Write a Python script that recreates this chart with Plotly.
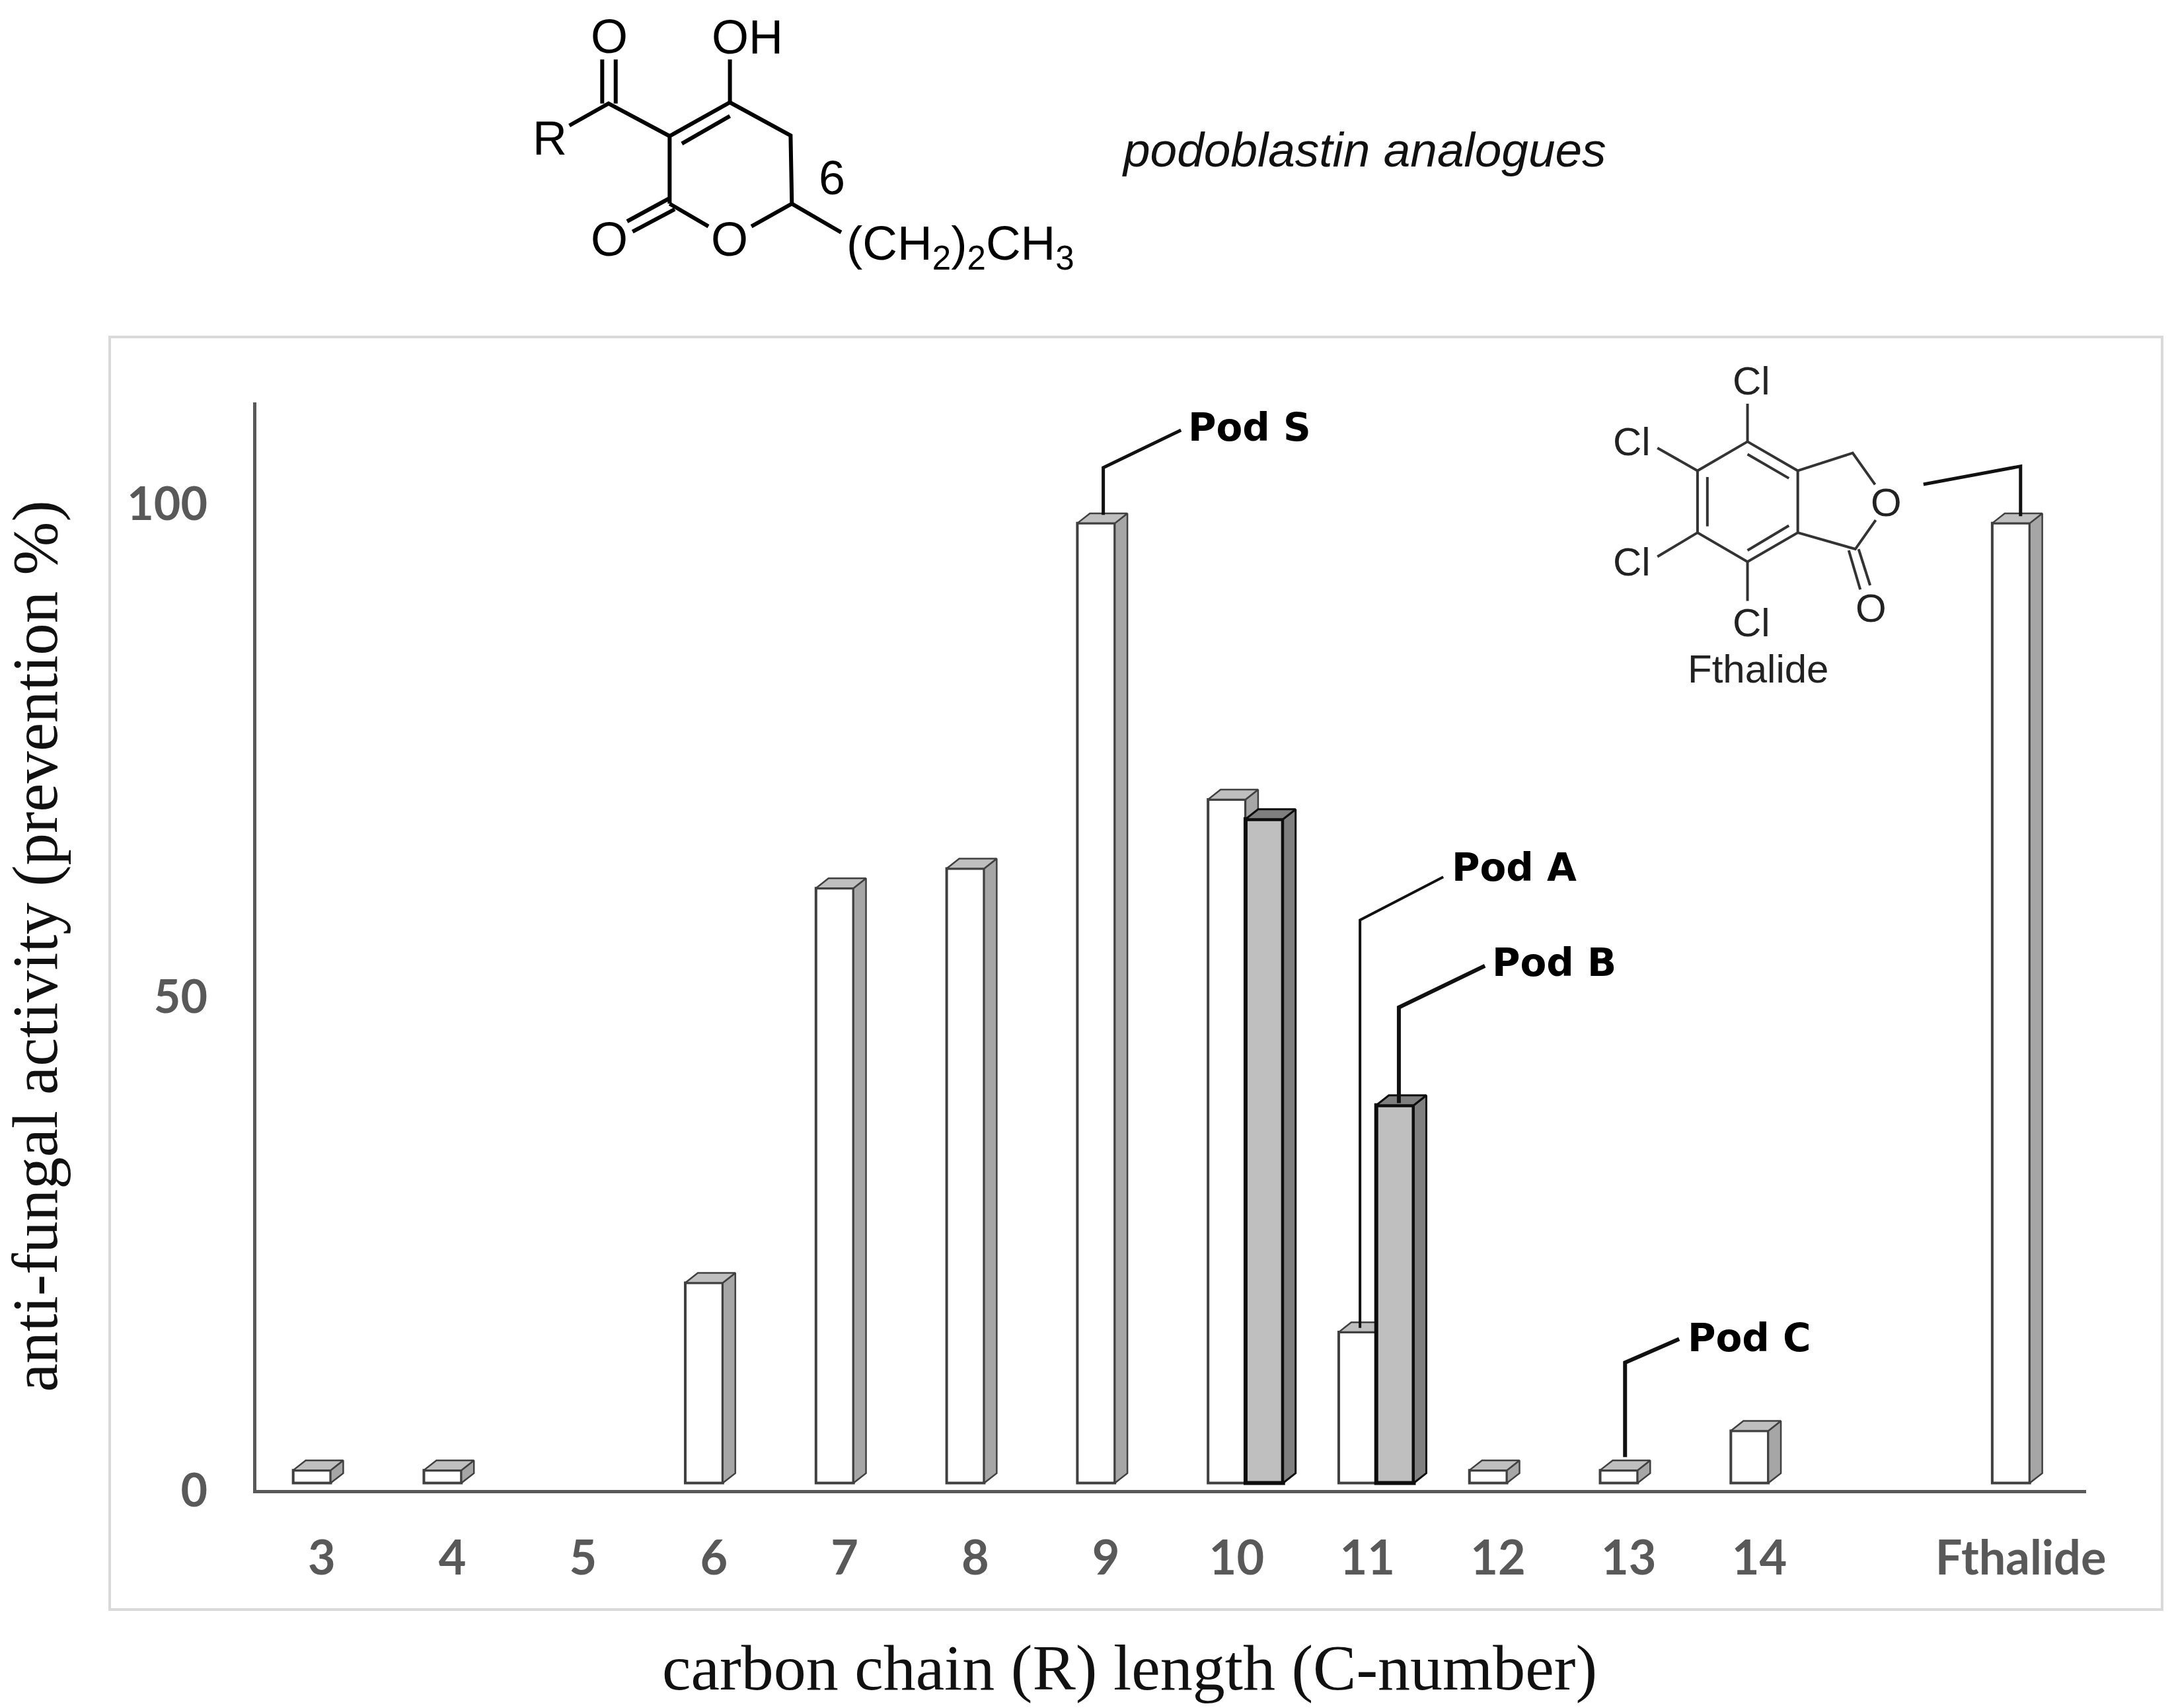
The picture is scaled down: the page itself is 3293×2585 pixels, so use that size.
import plotly.graph_objects as go

# ---------- data ----------
categories = ["3", "4", "5", "6", "7", "8", "9", "10", "11", "12", "13", "14", "Fthalide"]
category_pos = [3, 4, 5, 6, 7, 8, 9, 10, 11, 12, 13, 14, 16]
white_values = [2, 2, None, 21, 61, 63, 98, 70, 16, 2, 2, 6, 98]
grey_values = [None, None, None, None, None, None, None, 68, 39, None, None, None, None]
y_ticks = [0, 50, 100]

W, H = 3293, 2585
S = 3293 / 1568  # shrunk-image scale used when reading the layout

AX_L, AX_R, AX_T, AX_B = 388, 3157, 609, 2255
BAR_W, DX, DY, FLOOR = 0.287, 0.096, 1.0, 0.7
WHITE_OFF, GREY_OFF = -0.075, 0.212


def px(x, y):
    return x / W, 1 - y / H


def faces(values, off):
    tx, ty, sx, sy = [], [], [], []
    for c, v in zip(category_pos, values):
        if v is None:
            continue
        x0, x1 = c + off - BAR_W / 2, c + off + BAR_W / 2
        tx += [x0, x0 + DX, x1 + DX, x1, x0, None]
        ty += [v, v + DY, v + DY, v, v, None]
        sx += [x1, x1 + DX, x1 + DX, x1, x1, None]
        sy += [FLOOR, FLOOR + DY, v + DY, v, FLOOR, None]
    return tx, ty, sx, sy


def series(values, off, front, top, side, edge, lw, face_lw, xa, ya):
    kept = [(c + off, v) for c, v in zip(category_pos, values) if v is not None]
    tx, ty, sx, sy = faces(values, off)
    out = []
    for fx, fy, col in ((sx, sy, side), (tx, ty, top)):
        out.append(go.Scatter(x=fx, y=fy, mode="lines", fill="toself", fillcolor=col,
                              line=dict(color=edge, width=face_lw), xaxis=xa, yaxis=ya,
                              showlegend=False, hoverinfo="skip"))
    out.append(go.Bar(x=[k[0] for k in kept], y=[k[1] - FLOOR for k in kept], base=FLOOR,
                      width=BAR_W, marker=dict(color=front, line=dict(color=edge, width=lw)),
                      xaxis=xa, yaxis=ya, showlegend=False, hoverinfo="skip"))
    return out


fig = go.Figure()
for t in series(white_values, WHITE_OFF, "#ffffff", "#bfbfbf", "#a6a6a6", "#404040", 4, 2.5, "x", "y"):
    fig.add_trace(t)
for t in series(grey_values, GREY_OFF, "#bfbfbf", "#7f7f7f", "#7f7f7f", "#0d0d0d", 6, 3, "x2", "y2"):
    fig.add_trace(t)

shapes = []


def line(points, width=5, color="#111111"):
    xy = [px(*p) for p in points]
    path = "M " + " L ".join(f"{a:.5f} {b:.5f}" for a, b in xy)
    shapes.append(dict(type="path", xref="paper", yref="paper", path=path,
                       line=dict(color=color, width=width)))


def text(s, x, y, size, color="#111111", family="Liberation Sans", anchor="center", rot=0):
    a, b = px(x, y)
    annotations.append(dict(text=s, x=a, y=b, xref="paper", yref="paper", showarrow=False,
                            xanchor=anchor, yanchor="middle", textangle=rot,
                            font=dict(size=size, color=color, family=family)))


annotations = []

# outer frame
shapes.append(dict(type="rect", xref="paper", yref="paper",
                   x0=166 / W, x1=3272 / W, y0=1 - 2436 / H, y1=1 - 510 / H,
                   line=dict(color="#d9d9d9", width=4), layer="below"))


# leader lines and labels (positions in reduced-image pixels)
def s(points):
    return [(a * S, b * S) for a, b in points]


line(s([(795, 371), (795, 337), (851, 310)]), 5)
line(s([(980, 957), (980, 663), (1040, 632)]), 4)
line(s([(1008, 795), (1008, 726), (1070, 696)]), 6)
line(s([(1171, 1050), (1171, 982), (1210, 965)]), 6)
line(s([(1456, 372), (1456, 336), (1386, 349)]), 5)
POD = "DejaVu Sans"
for label, a, b in (("Pod S", 855, 308), ("Pod A", 1045, 625), ("Pod B", 1074, 694), ("Pod C", 1215, 964)):
    text(f"<b>{label}</b>", a * S, b * S, 58, "#000000", POD, "left")

# x-axis title
text("carbon chain (R) length (C-number)", 814 * S, 1202 * S, 98, "#111111", "Liberation Serif")
text("<i>podoblastin analogues</i>", 983 * S, 108 * S, 73)


# podoblastin structure (zoom coordinates)
def z1(points):
    return [(750 + a / 1.568, b / 3) for a, b in points]


for seg in (
    [(253, 270), (253, 470)], [(285, 270), (285, 470)], [(175, 570), (268, 470), (413, 618)],
    [(413, 925), (413, 618), (556, 465), (700, 615), (703, 925), (607, 1028)],
    [(442, 652), (556, 527)], [(556, 270), (556, 465)], [(505, 1028), (413, 925)],
    [(413, 900), (312, 1005)], [(425, 950), (325, 1052)], [(703, 925), (820, 1055)],
):
    line(z1(seg), 6, "#000000")
for t_, a, b in (("O", 270, 165), ("OH", 597, 168), ("R", 128, 628), ("6", 798, 808), ("O", 270, 1087), ("O", 555, 1087)):
    x_, y_ = z1([(a, b)])[0]
    text(t_, x_, y_, 72, "#000000")
x_, y_ = z1([(830, 1120)])[0]
text("(CH<sub>2</sub>)<sub>2</sub>CH<sub>3</sub>", x_, y_, 73, "#000000", anchor="left")


# fthalide structure (zoom coordinates)
def z2(points):
    return [(2350 + a / 2.01, 500 + b / 2.613) for a, b in points]


for seg in (
    [(592, 440), (745, 555), (745, 800), (592, 915), (440, 800), (440, 555), (592, 440)],
    [(592, 490), (718, 585)], [(470, 580), (470, 775)], [(592, 870), (718, 772)],
    [(592, 290), (592, 440)], [(318, 465), (440, 555)], [(318, 895), (440, 800)], [(592, 915), (592, 1070)],
    [(745, 555), (912, 485), (980, 610)], [(745, 800), (920, 865), (982, 750)],
    [(900, 870), (935, 1025)], [(930, 865), (965, 1008)],
):
    line(z2(seg), 4, "#333333")
for t_, a, b in (("Cl", 603, 200), ("Cl", 240, 440), ("Cl", 240, 915), ("Cl", 603, 1155), ("O", 1015, 680), ("O", 967, 1098), ("Fthalide", 625, 1340)):
    x_, y_ = z2([(a, b)])[0]
    text(t_, x_, y_, 60, "#222222")

y_top = (AX_B - AX_T) / (14.93)
dom_x = [AX_L / W, AX_R / W]
dom_y = [1 - AX_B / H, 1 - AX_T / H]
fig.update_layout(
    width=W, height=H, margin=dict(l=0, r=0, t=0, b=0, autoexpand=False), autosize=False,
    paper_bgcolor="white", plot_bgcolor="rgba(0,0,0,0)", barmode="overlay", showlegend=False,
    shapes=shapes, annotations=annotations,
    xaxis=dict(domain=dom_x, range=[2.5, 16.5], tickmode="array", tickvals=category_pos, ticktext=categories,
               showgrid=False, zeroline=False, showline=True, linecolor="#595959", linewidth=5,
               ticks="", ticklabelstandoff=37, anchor="y", automargin=False,
               tickfont=dict(family="Lato", size=72, color="#595959", weight="bold")),
    yaxis=dict(domain=dom_y, range=[0, y_top], tickmode="array", tickvals=y_ticks, ticktext=[str(v) for v in y_ticks],
               showgrid=False, zeroline=False, showline=True, linecolor="#595959", linewidth=5,
               ticks="", ticklabelstandoff=55, anchor="x", automargin=False,
               tickfont=dict(family="Lato", size=70, color="#595959", weight="bold"),
               title=dict(text="anti-fungal activity (prevention %)", standoff=75,
                          font=dict(family="Liberation Serif", size=97, color="#111111"))),
    xaxis2=dict(domain=dom_x, range=[2.5, 16.5], overlaying="x", visible=False, anchor="y2"),
    yaxis2=dict(domain=dom_y, range=[0, y_top], overlaying="y", visible=False, anchor="x2"),
)

fig.write_html("out.html", config=dict(displayModeBar=False),
               post_script="document.body.style.margin='0';document.documentElement.style.overflow='hidden';")
